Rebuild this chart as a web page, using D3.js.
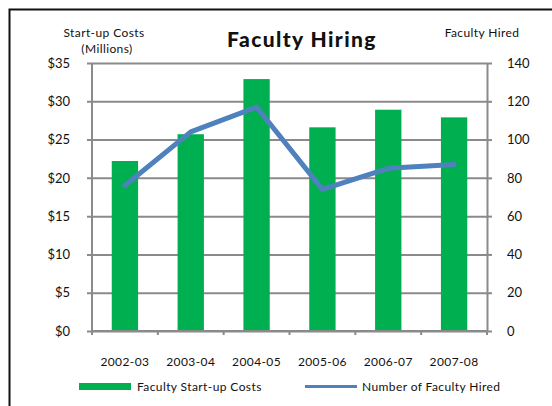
<!DOCTYPE html>
<html>
<head>
<meta charset="utf-8">
<script src="https://cdn.jsdelivr.net/npm/d3@7"></script>
<style>
  body { margin: 0; background: #fff; }
  svg text { font-family: "Century Gothic", Lato, "DejaVu Sans", sans-serif; fill: #111; }
  svg text.small { letter-spacing: 0.4px; }
</style>
</head>
<body>
<div id="chart"></div>
<script>
// chart data
const years = ["2002-03", "2003-04", "2004-05", "2005-06", "2006-07", "2007-08"];
const startupCosts = [22.2, 25.7, 32.9, 26.6, 28.9, 27.9];   // $ millions
const facultyHired = [76, 104, 117, 74, 85, 87];
const costTicks = [0, 5, 10, 15, 20, 25, 30, 35];
const hiredTicks = [0, 20, 40, 60, 80, 100, 120, 140];

const W = 552, H = 406;
const plot = { left: 92, right: 487, top: 63, bottom: 331 };
const gridColor = "#8a8a8a";
const green = "#00b050";
const blue = "#4f81bd";

const svg = d3.select("#chart").append("svg")
  .attr("width", W)
  .attr("height", H);

// outer frame (runs off the right and bottom edges)
svg.append("rect")
  .attr("x", 9.5).attr("y", 9.5)
  .attr("width", W).attr("height", H)
  .attr("fill", "none")
  .attr("stroke", "#111")
  .attr("stroke-width", 2);

const x = d3.scaleBand()
  .domain(years)
  .range([plot.left, plot.right])
  .paddingInner(0.6)
  .paddingOuter(0.3);

const yCost = d3.scaleLinear().domain([0, 35]).range([plot.bottom, plot.top]);
const yHired = d3.scaleLinear().domain([0, 140]).range([plot.bottom, plot.top]);

// gridlines + left axis
const leftAxis = svg.append("g")
  .attr("transform", `translate(${plot.left},0)`)
  .call(d3.axisLeft(yCost)
    .tickValues(costTicks)
    .tickSize(-(plot.right - plot.left))
    .tickSizeOuter(0)
    .tickPadding(22)
    .tickFormat(d => "$" + d));
leftAxis.select(".domain").remove();
leftAxis.selectAll(".tick line")
  .attr("x1", -5)
  .attr("stroke", gridColor)
  .attr("stroke-width", 2);
leftAxis.selectAll("text").attr("font-size", 13).attr("fill", "#111");

// right axis
const rightAxis = svg.append("g")
  .attr("transform", `translate(${plot.right},0)`)
  .call(d3.axisRight(yHired)
    .tickValues(hiredTicks)
    .tickSize(5)
    .tickSizeOuter(0)
    .tickPadding(15));
rightAxis.select(".domain").attr("stroke", gridColor).attr("stroke-width", 2);
rightAxis.selectAll(".tick line").attr("stroke", gridColor).attr("stroke-width", 2);
rightAxis.selectAll("text").attr("font-size", 13).attr("fill", "#111");

// left axis line
svg.append("line")
  .attr("x1", plot.left).attr("x2", plot.left)
  .attr("y1", plot.top).attr("y2", plot.bottom)
  .attr("stroke", gridColor).attr("stroke-width", 2);

// bars
svg.append("g").selectAll("rect")
  .data(years)
  .join("rect")
  .attr("x", d => x(d))
  .attr("y", (d, i) => yCost(startupCosts[i]))
  .attr("width", x.bandwidth())
  .attr("height", (d, i) => plot.bottom - yCost(startupCosts[i]))
  .attr("fill", green);

// bottom axis with ticks between categories
const step = x.step();
const xBottom = svg.append("g")
  .attr("transform", `translate(0,${plot.bottom})`);
xBottom.append("line")
  .attr("x1", plot.left).attr("x2", plot.right)
  .attr("stroke", gridColor).attr("stroke-width", 2);
xBottom.selectAll(".sep")
  .data(d3.range(years.length + 1))
  .join("line")
  .attr("class", "sep")
  .attr("x1", i => plot.left + i * step)
  .attr("x2", i => plot.left + i * step)
  .attr("y1", 0).attr("y2", 4)
  .attr("stroke", gridColor).attr("stroke-width", 2);
xBottom.selectAll(".lbl")
  .data(years)
  .join("text")
  .attr("class", "lbl small")
  .attr("x", d => x(d) + x.bandwidth() / 2)
  .attr("y", 35)
  .attr("text-anchor", "middle")
  .attr("font-size", 12)
  .text(d => d);

// line series
const line = d3.line()
  .x((d, i) => x(years[i]) + x.bandwidth() / 2)
  .y(d => yHired(d));
svg.append("path")
  .datum(facultyHired)
  .attr("d", line)
  .attr("fill", "none")
  .attr("stroke", blue)
  .attr("stroke-width", 5)
  .attr("stroke-linejoin", "round")
  .attr("stroke-linecap", "round");

// titles
svg.append("text")
  .attr("x", 302).attr("y", 47)
  .attr("text-anchor", "middle")
  .attr("font-size", 21)
  .attr("font-weight", "900")
  .attr("letter-spacing", "1.4px")
  .text("Faculty Hiring");
svg.append("text")
  .attr("class", "small")
  .attr("x", 104).attr("y", 37)
  .attr("text-anchor", "middle")
  .attr("font-size", 12)
  .text("Start-up Costs");
svg.append("text")
  .attr("class", "small")
  .attr("x", 107).attr("y", 53)
  .attr("text-anchor", "middle")
  .attr("font-size", 12)
  .text("(Millions)");
svg.append("text")
  .attr("class", "small")
  .attr("x", 482).attr("y", 37)
  .attr("text-anchor", "middle")
  .attr("font-size", 12)
  .text("Faculty Hired");

// legend
const legend = svg.append("g");
legend.append("rect")
  .attr("x", 79).attr("y", 383)
  .attr("width", 52).attr("height", 7)
  .attr("fill", green);
legend.append("text")
  .attr("class", "small")
  .attr("x", 137).attr("y", 391)
  .attr("font-size", 12)
  .text("Faculty Start-up Costs");
legend.append("line")
  .attr("x1", 305).attr("x2", 357)
  .attr("y1", 386.5).attr("y2", 386.5)
  .attr("stroke", blue).attr("stroke-width", 3);
legend.append("text")
  .attr("class", "small")
  .attr("x", 362).attr("y", 391)
  .attr("font-size", 12)
  .text("Number of Faculty Hired");
</script>
</body>
</html>
